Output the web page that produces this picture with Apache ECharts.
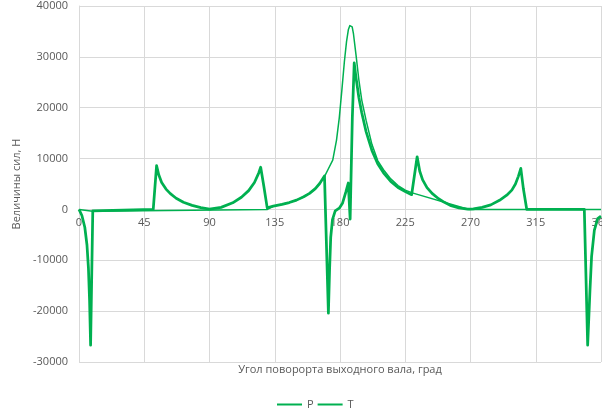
<!DOCTYPE html>
<html>
<head>
<meta charset="utf-8">
<script src="https://cdn.jsdelivr.net/npm/echarts@6/dist/echarts.min.js"></script>
<style>
  html, body { margin: 0; padding: 0; background: #fff; }
  #chart { width: 602px; height: 411px; }
</style>
</head>
<body>
<div id="chart"></div>
<script>
// угол, град
const pAngle = [0, 9.4, 10.2, 130, 134, 140, 145, 150, 155, 159, 163, 166, 169.2, 172, 175, 177.6, 179.5,
  181.3, 183, 184.5, 185.8, 186.8, 187.6, 188.4, 189.3, 191, 193, 195, 198, 202, 206, 210, 215, 220, 225, 229.8, 269, 360];
const pForce = [0, -350, 0, 0, 650, 1000, 1350, 1830, 2500, 3150, 4100, 5100, 6400, 8000, 9700, 13640, 18000,
  23500, 29000, 33000, 35400, 36150, 36280, 35900, 34500, 30500, 25500, 21500, 17500, 12800, 9600, 7800, 6000, 4700, 3800, 3250, 0, 0];

const tAngle = [0, 2, 4, 5.5, 6.5, 7.3, 8, 9.5, 10, 51.2, 53.5, 55, 57, 60, 63, 67, 72, 78, 84, 90,
  98, 106, 112, 117, 121, 124, 125.3, 127.5, 129.8, 134, 140, 145, 150, 155, 159, 163, 166, 169.3,
  172, 172.8, 173.6, 174.8, 176.7, 179.5, 181.7, 184, 185.7, 187, 188.5, 189.8, 191, 193, 195, 198,
  202, 206, 210, 215, 220, 225, 229.4, 233.2, 235, 237, 240, 243.5, 248, 252, 256, 262, 268, 272,
  278, 284, 290, 295, 298.5, 301, 303, 304.7, 306.5, 308.8, 348.5, 350.8, 352.4, 353.5, 355.4, 357.7, 360];
const tForce = [0, -1200, -3500, -7000, -11500, -18000, -26700, -300, 0, 0, 8600, 6800, 5300, 4000, 3100, 2200, 1400, 800, 350, 50,
  400, 1300, 2400, 3700, 5300, 7200, 8300, 4500, 300, 650, 1000, 1350, 1830, 2500, 3150, 4100, 5100, 6600,
  -20400, -12000, -5500, -2000, -300, 250, 1200, 3400, 5200, -1900, 18000, 28800, 26000, 22000, 19000, 15300,
  11600, 9000, 7200, 5500, 4300, 3500, 2900, 10350, 7500, 5800, 4300, 3150, 2100, 1400, 800, 300, 50, 100,
  400, 900, 1800, 2800, 3800, 5000, 6500, 8070, 4000, 0, 0, -26700, -15900, -9300, -4100, -1800, -1300];

const yMin = -30000;
const yMax = 40000;

const pairs = (xs, ys) => xs.map((x, i) => [x, ys[i]]);

const font = "'Open Sans', 'Noto Sans', sans-serif";
const textGray = '#595959';
const gridGray = '#d9d9d9';
const green = '#00b050';

const H = 411;
const gridTop = 6;
const gridBottom = 49;
const plotH = H - gridTop - gridBottom;
// ось X проходит через 0 вместе с подписями
const zeroOffset = -plotH * (0 - yMin) / (yMax - yMin);

const chart = echarts.init(document.getElementById('chart'));
chart.setOption({
  animation: false,
  textStyle: { fontFamily: font },
  grid: { left: 79, right: 1, top: gridTop, bottom: gridBottom, containLabel: false, outerBoundsMode: 'none' },
  legend: {
    top: 399,
    left: 276,
    padding: 0,
    itemWidth: 25,
    itemHeight: 12,
    itemGap: 3,
    itemStyle: { opacity: 0 },
    textStyle: { color: textGray, fontSize: 11, fontFamily: font },
    data: ['P', 'T']
  },
  xAxis: {
    type: 'value',
    min: 0,
    max: 360,
    interval: 45,
    offset: zeroOffset,
    name: 'Угол поворорта выходного вала, град',
    nameLocation: 'middle',
    nameGap: 155,
    nameTextStyle: { color: textGray, fontSize: 11 },
    axisLine: { onZero: false, lineStyle: { color: gridGray } },
    axisTick: { show: false },
    axisLabel: { color: textGray, fontSize: 11, margin: 8 },
    splitLine: { lineStyle: { color: gridGray } }
  },
  yAxis: {
    type: 'value',
    min: yMin,
    max: yMax,
    interval: 10000,
    name: 'Величины сил, Н',
    nameLocation: 'middle',
    nameGap: 42,
    nameTextStyle: { color: textGray, fontSize: 11 },
    axisLine: { show: true, onZero: false, lineStyle: { color: gridGray } },
    axisTick: { show: false },
    axisLabel: { color: textGray, fontSize: 11, margin: 11, formatter: v => String(v) },
    splitLine: { lineStyle: { color: gridGray } }
  },
  series: [
    {
      name: 'P',
      type: 'line',
      symbol: 'none',
      data: pairs(pAngle, pForce),
      lineStyle: { color: green, width: 1.5, join: 'round' },
      itemStyle: { color: green },
      z: 3
    },
    {
      name: 'T',
      type: 'line',
      symbol: 'none',
      data: pairs(tAngle, tForce),
      lineStyle: { color: green, width: 2.75, join: 'round' },
      itemStyle: { color: green },
      z: 2
    }
  ]
});
</script>
</body>
</html>
